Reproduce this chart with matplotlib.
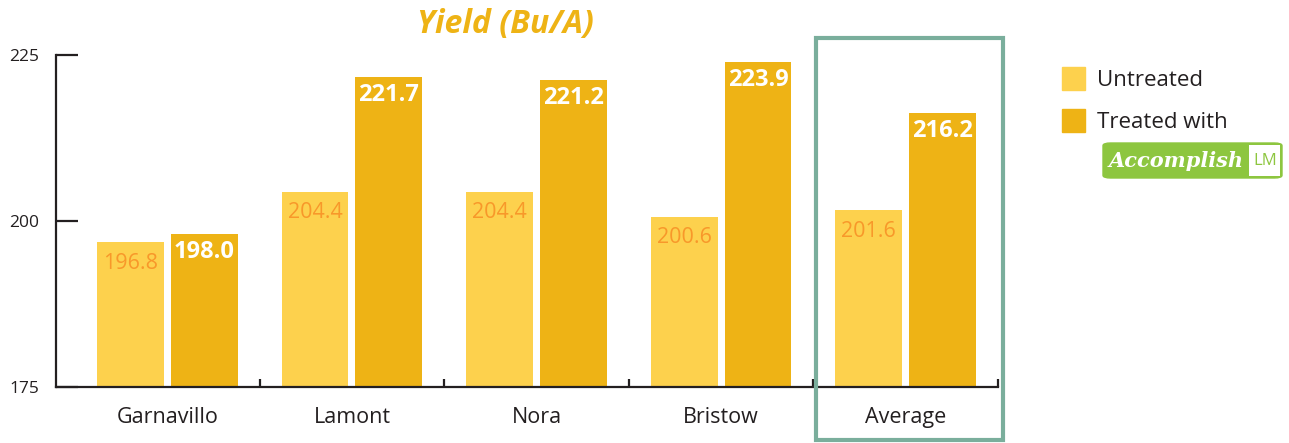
import numpy as np
import matplotlib
matplotlib.use('Agg')
import matplotlib.pyplot as plt
from matplotlib.patches import Rectangle, FancyBboxPatch

plt.rcParams['font.family'] = ['Open Sans', 'DejaVu Sans']

sites = ['Garnavillo', 'Lamont', 'Nora', 'Bristow', 'Average']
untreated = [196.8, 204.4, 204.4, 200.6, 201.6]
treated = [198.0, 221.7, 221.2, 223.9, 216.2]
yticks = [175, 200, 225]

c_untr = '#fdd14d'
c_trt = '#eeb315'
c_lbl = '#f8982a'
c_txt = '#231f20'

W, H = 1289, 443
fig = plt.figure(figsize=(W / 100, H / 100), dpi=100)
ax = fig.add_axes([56 / W, 1 - 387 / H, (998 - 56) / W, (387 - 55) / H])

ind = np.arange(len(sites))
bw = 0.362
ax.bar(ind - 0.2, np.array(untreated) - 175, bw, bottom=175, color=c_untr)
ax.bar(ind + 0.2, np.array(treated) - 175, bw, bottom=175, color=c_trt)

for x, v in zip(ind, untreated):
    ax.annotate('%.1f' % v, (x - 0.2, v), xytext=(0, -15), textcoords='offset points',
                ha='center', va='center', fontsize=15.5, color=c_lbl)
for x, v in zip(ind, treated):
    ax.annotate('%.1f' % v, (x + 0.2, v), xytext=(0, -13), textcoords='offset points',
                ha='center', va='center', fontsize=17, color='white', fontweight='bold')

ax.set_xlim(-0.603, 4.49)
ax.set_ylim(175, 225)
for s in ['top', 'right']:
    ax.spines[s].set_visible(False)
for s in ['left', 'bottom']:
    ax.spines[s].set_linewidth(1.6)
    ax.spines[s].set_color(c_txt)

ax.set_yticks(yticks)
ax.set_yticklabels([str(t) for t in yticks], fontsize=12.5, color=c_txt)
ax.tick_params(axis='y', direction='in', length=16, width=1.6, pad=12, color=c_txt)

ax.set_xticks(ind + 0.5)
ax.set_xticklabels([])
ax.tick_params(axis='x', direction='in', length=6, width=1.6, color=c_txt)
for x, name in zip(ind, sites):
    ax.text(x, 172.0, name, ha='center', va='top', fontsize=15.5, color=c_txt)

fig.text(505 / W, 1 - 25 / H, 'Yield (Bu/A)', ha='center', va='center', fontsize=23,
         fontweight='bold', fontstyle='italic', color=c_trt)

# highlight box round the average
fig.patches.append(Rectangle((816 / W, 1 - 440 / H), 187 / W, 402 / H, transform=fig.transFigure,
                             fill=False, edgecolor='#7aae9c', linewidth=3))

# legend
fig.patches.append(Rectangle((1062 / W, 1 - 90 / H), 23 / W, 23 / H, transform=fig.transFigure, color=c_untr))
fig.patches.append(Rectangle((1062 / W, 1 - 132 / H), 23 / W, 23 / H, transform=fig.transFigure, color=c_trt))
fig.text(1097 / W, 1 - 81 / H, 'Untreated', va='center', fontsize=16, color=c_txt)
fig.text(1097 / W, 1 - 122 / H, 'Treated with', va='center', fontsize=16, color=c_txt)

# logo
fig.patches.append(FancyBboxPatch((1103 / W, 1 - 178 / H), 179 / W, 35 / H, transform=fig.transFigure,
                                  boxstyle='round,pad=0,rounding_size=0.006', facecolor='#8dc63f',
                                  edgecolor='#8dc63f', linewidth=1))
fig.patches.append(Rectangle((1249 / W, 1 - 176 / H), 31 / W, 31 / H, transform=fig.transFigure,
                             facecolor='white', edgecolor='none'))
fig.text(1176 / W, 1 - 161 / H, 'Accomplish', ha='center', va='center', fontsize=15, color='white',
         fontweight='bold', fontstyle='italic', family=['DejaVu Serif'])
fig.text(1265 / W, 1 - 161 / H, 'LM', ha='center', va='center', fontsize=12, color='#8dc63f')

fig.savefig('out.png', dpi=100)
